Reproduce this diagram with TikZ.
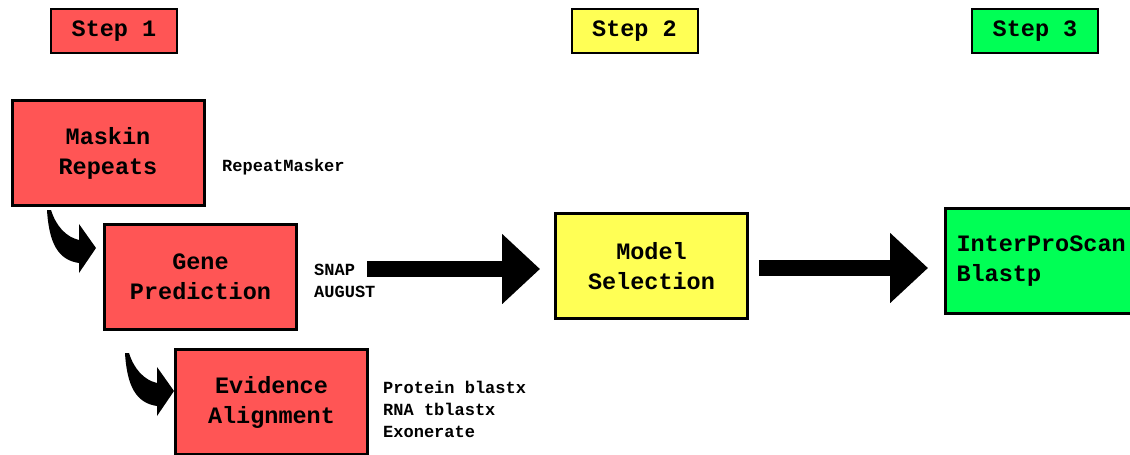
\documentclass[tikz,border=0pt]{standalone}
\usepackage{fontspec}
\newfontfamily\cour{Liberation Mono}
\usetikzlibrary{arrows.meta,calc}
\definecolor{cred}{RGB}{255,85,85}
\definecolor{cyel}{RGB}{255,255,85}
\definecolor{cgrn}{RGB}{0,255,85}
\tikzset{
  bigbox/.style={draw=black, line width=3pt, minimum width=192pt, minimum height=105pt,
    inner sep=0pt, align=center, font=\cour\bfseries\fontsize{23.5}{30}\selectfont},
  stepbox/.style={draw=black, line width=2pt, minimum width=126pt, minimum height=44pt,
    inner sep=0pt, font=\cour\bfseries\fontsize{23.5}{30}\selectfont},
  tool/.style={anchor=west, inner sep=0pt, align=left, font=\cour\bfseries\fontsize{17}{22}\selectfont},
  bigarrow/.style={draw=black, line width=16pt, -{Triangle[length=38pt, width=68pt]}},
  curvearrow/.pic={
    \fill[black] (-17,-24) -- (0,0) -- (-17,25) -- cycle;
    \fill[black] (-49,-38) .. controls (-47,-5) and (-38,12) .. (-17,15)
      -- (-17,-8) .. controls (-30,-11) and (-40,-22) .. (-45,-38) -- cycle;
  }
}
\begin{document}
\begin{tikzpicture}[x=1pt, y=-1pt]
\useasboundingbox (0,0) rectangle (1130,455);
\clip (0,0) rectangle (1130,455);
\fill[white] (0,0) rectangle (1130,455);

% step labels
\node[stepbox, fill=cred] (s1) at (114,31) {Step 1};
\node[stepbox, fill=cyel] (s2) at (634.5,31) {Step 2};
\node[stepbox, fill=cgrn] (s3) at (1035,31) {Step 3};

% step 1 boxes
\node[bigbox, fill=cred] (mask) at (108,153) {Maskin\\Repeats};
\node[bigbox, fill=cred] (gene) at (200.5,277) {Gene\\Prediction};
\node[bigbox, fill=cred] (evid) at (271.5,402) {Evidence\\Alignment};

% step 2 and 3 boxes
\node[bigbox, fill=cyel] (model) at (651.5,266) {Model\\Selection};
\node[bigbox, fill=cgrn, align=left, text width=170pt, inner xsep=11pt] (inter) at (1041.5,261) {InterProScan\\Blastp};

% tool labels
\node[tool] (rm) at (222,167) {RepeatMasker};
\node[tool] (snap) at (314,280.5) {SNAP\\AUGUST};
\node[tool] (prot) at (383,409) {Protein blastx\\RNA tblastx\\Exonerate};

% curved arrows
\pic at ($(gene.west)+(-7,-29)$) {curvearrow};
\pic at ($(evid.west)+(0,-11)$) {curvearrow};

% big arrows
\draw[bigarrow] ($(gene.east)+(69,-8)$) -- ($(model.west)+(-14,3)$);
\draw[bigarrow] ($(model.east)+(10,2)$) -- ($(inter.west)+(-16,7)$);
\end{tikzpicture}
\end{document}
